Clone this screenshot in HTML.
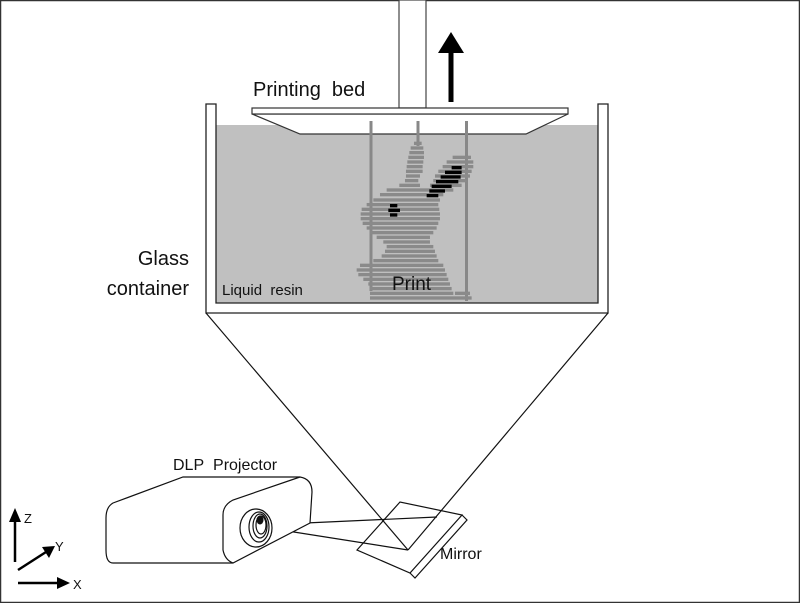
<!DOCTYPE html>
<html><head><meta charset="utf-8"><style>
html,body{margin:0;padding:0;background:#fff}
svg{display:block}
text{font-family:"Liberation Sans",Arial,sans-serif;fill:#111}
</style></head><body>
<svg width="800" height="603" viewBox="0 0 800 603" xmlns="http://www.w3.org/2000/svg">
<rect x="0.5" y="0.5" width="799" height="602" fill="#fff" stroke="#333" stroke-width="1.5"/>
<rect x="216" y="125" width="382" height="178" fill="#c0c0c0"/>
<path d="M206,104 L216,104 L216,303 L598,303 L598,104 L608,104 L608,313 L206,313 Z" fill="#fff" stroke="#222" stroke-width="1.3"/>
<rect x="399" y="0" width="27" height="108" fill="#fff" stroke="#444" stroke-width="1.2"/>
<path d="M252,114 L300,134 L526,134 L568,114 Z" fill="#fff" stroke="#333" stroke-width="1.2"/>
<rect x="252" y="108" width="316" height="6" fill="#fff" stroke="#333" stroke-width="1.2"/>
<rect x="448.5" y="52" width="5" height="50" fill="#000"/>
<polygon points="451,32 438,53 464,53" fill="#000"/>
<g fill="#888">
<rect x="369.5" y="121" width="3" height="170"/>
<rect x="416.5" y="121" width="3" height="25"/>
<rect x="465" y="121" width="3" height="180"/>
</g>
<g transform="translate(200,90) scale(0.3333)" fill="#8a8a8a">
<rect x="642" y="155" width="23" height="10"/>
<rect x="632" y="169" width="38" height="10"/>
<rect x="628" y="183" width="44" height="10"/>
<rect x="625" y="197" width="47" height="10"/>
<rect x="622" y="211" width="48" height="10"/>
<rect x="620" y="225" width="48" height="10"/>
<rect x="618" y="239" width="50" height="10"/>
<rect x="618" y="253" width="42" height="10"/>
<rect x="615" y="267" width="40" height="10"/>
<rect x="598" y="281" width="62" height="10"/>
<rect x="758" y="197" width="55" height="10"/>
<rect x="740" y="211" width="80" height="10"/>
<rect x="728" y="225" width="92" height="10"/>
<rect x="715" y="239" width="100" height="10"/>
<rect x="705" y="253" width="105" height="10"/>
<rect x="700" y="267" width="100" height="10"/>
<rect x="690" y="281" width="95" height="10"/>
<rect x="560" y="295" width="200" height="10"/>
<rect x="540" y="309" width="190" height="10"/>
<rect x="520" y="325" width="200" height="10"/>
<rect x="500" y="339" width="215" height="10"/>
<rect x="485" y="353" width="233" height="10"/>
<rect x="482" y="367" width="238" height="10"/>
<rect x="482" y="381" width="238" height="10"/>
<rect x="488" y="395" width="227" height="10"/>
<rect x="500" y="409" width="210" height="10"/>
<rect x="510" y="423" width="190" height="10"/>
<rect x="530" y="437" width="160" height="10"/>
<rect x="550" y="451" width="140" height="10"/>
<rect x="560" y="465" width="140" height="10"/>
<rect x="555" y="479" width="150" height="10"/>
<rect x="545" y="493" width="165" height="10"/>
<rect x="520" y="507" width="195" height="10"/>
<rect x="480" y="521" width="250" height="10"/>
<rect x="470" y="535" width="265" height="10"/>
<rect x="475" y="549" width="265" height="10"/>
<rect x="490" y="563" width="255" height="10"/>
<rect x="505" y="577" width="245" height="10"/>
<rect x="510" y="591" width="245" height="10"/>
<rect x="510" y="605" width="250" height="10"/>
<rect x="765" y="605" width="45" height="10"/>
<rect x="510" y="619" width="305" height="10"/>
<g fill="#000">
<rect x="755" y="228" width="30" height="10"/>
<rect x="735" y="242" width="50" height="10"/>
<rect x="722" y="256" width="60" height="10"/>
<rect x="708" y="270" width="67" height="10"/>
<rect x="695" y="284" width="60" height="10"/>
<rect x="688" y="298" width="47" height="10"/>
<rect x="680" y="312" width="35" height="10"/>
<rect x="570" y="342" width="22" height="10"/>
<rect x="565" y="356" width="35" height="10"/>
<rect x="570" y="370" width="22" height="10"/>
</g>
</g>
<text x="253" y="96" font-size="20">Printing&#160;&#160;bed</text>
<text x="189" y="265" font-size="20" text-anchor="end">Glass</text>
<text x="189" y="295" font-size="20" text-anchor="end">container</text>
<text x="222" y="295" font-size="15">Liquid&#160;&#160;resin</text>
<text x="392" y="290" font-size="19">Print</text>
<text x="173" y="470" font-size="16">DLP&#160;&#160;Projector</text>
<text x="440" y="559" font-size="16">Mirror</text>
<g stroke="#111" stroke-width="1.2" fill="none">
<line x1="206" y1="313" x2="408" y2="550"/>
<line x1="608" y1="313" x2="408" y2="550"/>
<line x1="262" y1="525" x2="437" y2="517"/>
<line x1="262" y1="527" x2="408" y2="550"/>
<path d="M357,550 L400,502 L462,515 L410,573 Z"/>
<path d="M462,515 L467,520 L415,578 L410,573"/>
<path d="M113,503 L183,477 L300,477 Q312,479 312,492 L310,523 L233,563 L113,563 Q106,563 106,550 L106,518 Q106,507 113,503 Z" fill="#fff"/>
<path d="M300,477 L233,500 Q223,505 223,515 L223,550 Q225,560 233,563"/>
<ellipse cx="256" cy="528" rx="16" ry="19" fill="#fff"/>
<ellipse cx="259" cy="527" rx="10" ry="15"/>
<ellipse cx="260" cy="526" rx="7" ry="12"/>
<ellipse cx="261" cy="525" rx="5" ry="9"/>
</g>
<ellipse cx="260" cy="520" rx="3.5" ry="4.5" fill="#111"/>
<g stroke="#000" stroke-width="2.5">
<line x1="15" y1="562" x2="15" y2="520"/>
<line x1="18" y1="570" x2="46" y2="552"/>
<line x1="18" y1="583" x2="60" y2="583"/>
</g>
<polygon points="15,508 9,522 21,522" fill="#000"/>
<polygon points="55,546 42,547 49,558" fill="#000"/>
<polygon points="70,583 57,577 57,589" fill="#000"/>
<text x="24" y="523" font-size="13">Z</text>
<text x="55" y="551" font-size="13">Y</text>
<text x="73" y="589" font-size="13">X</text>
</svg>
</body></html>
